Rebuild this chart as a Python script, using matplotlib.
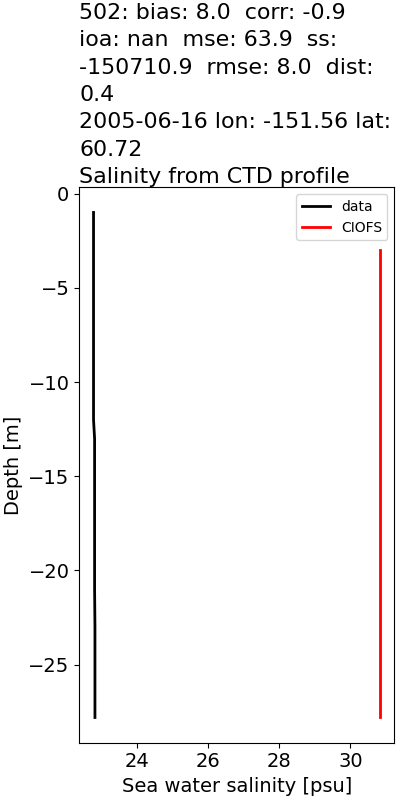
import matplotlib
matplotlib.use("Agg")
import matplotlib.pyplot as plt

data_depth = [-1, -3, -5, -7, -9, -11, -12, -13, -15, -17, -19, -21, -23, -25, -27.8]
data_sal = [22.79, 22.79, 22.79, 22.79, 22.79, 22.79, 22.79, 22.82, 22.82, 22.82, 22.82, 22.82, 22.83, 22.83, 22.83]
model_depth = [-3, -10, -20, -27.8]
model_sal = [30.83, 30.83, 30.83, 30.83]

title = ("502: bias: 8.0  corr: -0.9\nioa: nan  mse: 63.9  ss:\n"
         "-150710.9  rmse: 8.0  dist:\n0.4\n2005-06-16 lon: -151.56 lat:\n"
         "60.72\nSalinity from CTD profile")

fig, ax = plt.subplots(figsize=(4, 8), dpi=100)
fig.subplots_adjust(left=0.198, right=0.986, top=0.766, bottom=0.0716)
ax.plot(data_sal, data_depth, color="k", lw=2, label="data")
ax.plot(model_sal, model_depth, color="r", lw=2, label="CIOFS")
ax.set_xticks([24, 26, 28, 30])
ax.set_yticks([0, -5, -10, -15, -20, -25])
ax.tick_params(labelsize=14)
ax.set_xlabel("Sea water salinity [psu]", fontsize=14)
ax.set_ylabel("Depth [m]", fontsize=14)
ax.set_title(title, loc="left", fontsize=15.9, linespacing=1.46, pad=2)
ax.legend(loc="upper right", fontsize=10)
fig.savefig("out.png", dpi=100)
